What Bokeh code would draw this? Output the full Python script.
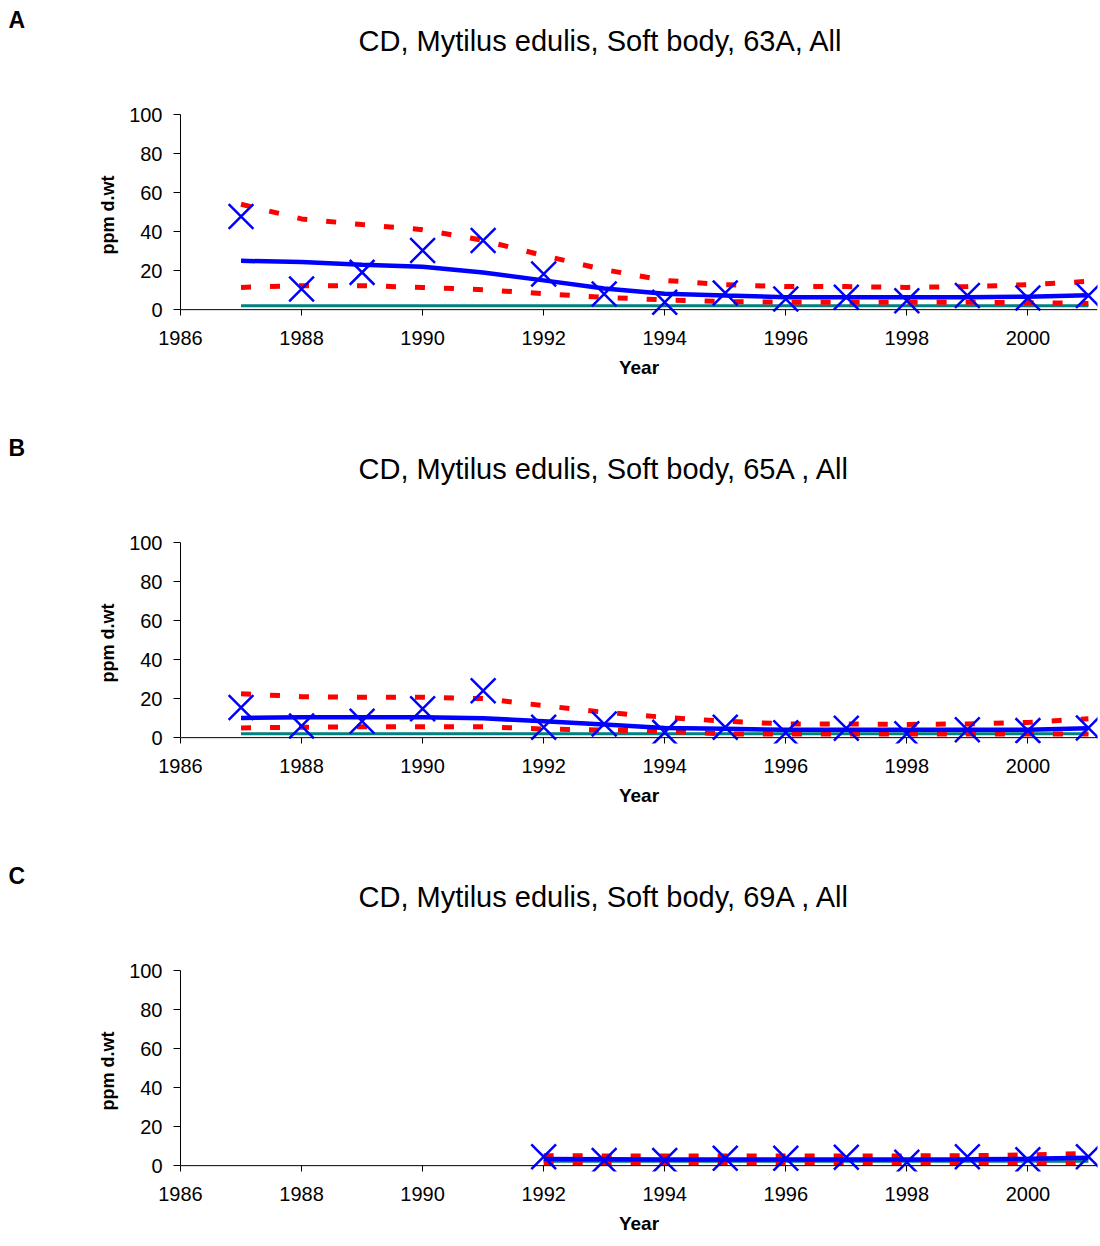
from bokeh.plotting import figure
from bokeh.models import Range1d, FixedTicker, Span, Title
from bokeh.layouts import column
from bokeh.embed import file_html
from bokeh.resources import INLINE

# ---------------- data ----------------
x_ticks = [1986, 1988, 1990, 1992, 1994, 1996, 1998, 2000]
y_ticks = [0, 20, 40, 60, 80, 100]

years_A = [1987, 1988, 1989, 1990, 1991, 1992, 1993, 1994, 1995, 1996, 1997, 1998, 1999, 2000, 2001]
obs_A = [47.7, 10.6, 19.1, 30.3, 35.4, 18.3, 8.0, 3.8, 8.5, 5.5, 6.3, 4.6, 7.2, 6.0, 7.2]
fit_A = [25.0, 24.4, 23.0, 22.0, 19.0, 15.0, 10.8, 8.1, 7.2, 6.4, 6.3, 6.3, 6.4, 6.6, 7.4]
upper_A = [54.0, 46.5, 43.6, 41.0, 35.5, 27.7, 20.5, 15.0, 12.8, 11.8, 11.8, 11.4, 11.8, 12.8, 14.5]
lower_A = [11.4, 12.3, 12.3, 11.4, 10.2, 8.2, 6.3, 5.0, 4.1, 3.8, 3.8, 3.8, 3.8, 3.6, 3.2]
bac_A = [2.0, 2.0, 2.0, 2.0, 2.0, 2.0, 2.0, 2.0, 2.0, 2.0, 2.0, 2.0, 2.0, 2.0, 2.0]

years_B = [1987, 1988, 1989, 1990, 1991, 1992, 1993, 1994, 1995, 1996, 1997, 1998, 1999, 2000, 2001]
obs_B = [15.5, 6.0, 8.4, 14.8, 24.0, 5.3, 7.0, 2.7, 5.3, 2.5, 4.8, 2.0, 4.0, 3.6, 5.0]
fit_B = [10.1, 10.4, 10.4, 10.4, 9.9, 8.4, 6.7, 5.0, 4.6, 4.0, 4.0, 4.0, 4.0, 4.1, 4.8]
upper_B = [22.5, 21.0, 20.7, 20.7, 20.0, 16.4, 13.0, 10.4, 8.4, 7.0, 7.0, 6.8, 7.0, 7.8, 9.7]
lower_B = [5.0, 5.3, 5.6, 5.6, 5.6, 4.4, 3.9, 3.2, 1.9, 1.9, 1.9, 1.9, 1.9, 1.9, 1.9]
bac_B = [2.0, 2.0, 2.0, 2.0, 2.0, 2.0, 2.0, 2.0, 2.0, 2.0, 2.0, 2.0, 2.0, 2.0, 2.0]

years_C = [1992, 1993, 1994, 1995, 1996, 1997, 1998, 1999, 2000, 2001]
obs_C = [4.6, 2.6, 2.6, 3.8, 3.8, 4.3, 1.7, 4.6, 3.0, 4.6]
fit_C = [3.4, 3.3, 3.2, 3.2, 3.2, 3.2, 3.2, 3.3, 3.5, 4.0]
upper_C = [5.1, 5.0, 5.0, 5.0, 5.0, 5.0, 5.0, 5.1, 5.5, 6.2]
lower_C = [1.4, 1.4, 1.4, 1.4, 1.4, 1.4, 1.4, 1.4, 1.4, 1.4]
bac_C = [2.2, 2.2, 2.2, 2.2, 2.2, 2.2, 2.2, 2.2, 2.2, 2.2]

titles = ["CD, Mytilus edulis, Soft body, 63A, All",
          "CD, Mytilus edulis, Soft body, 65A , All",
          "CD, Mytilus edulis, Soft body, 69A , All"]
letters = ["A", "B", "C"]
y_label = "ppm d.wt"
x_label = "Year"

# ---------------- layout constants ----------------
W = 1100
FL, FR, FT, FH = 180, 3, 114, 201
FONT = "Liberation Sans"


def make_panel(letter, title, years, obs, fit, upper, lower, bac, height):
    p = figure(width=W, height=height,
               x_range=Range1d(1986, 2001.15), y_range=Range1d(-3, 100),
               output_backend="svg", toolbar_location=None,
               min_border_left=FL, min_border_right=FR,
               min_border_top=FT, min_border_bottom=height - FT - FH,
               title=letter)
    # panel letter (outermost title)
    p.title.align = "left"
    p.title.offset = -172
    p.title.text_font = FONT
    p.title.text_font_size = "23px"
    p.title.text_font_style = "bold"
    p.title.text_color = "black"
    try:
        p.title.standoff = -20
    except Exception:
        p.title.standoff = 0
    # spacer between title and frame (innermost)
    p.add_layout(Title(text=" ", align="left", standoff=34,
                       text_font=FONT, text_font_size="20px"), "above")
    # chart title
    p.add_layout(Title(text=title, align="left", offset=178, standoff=0,
                       text_font=FONT, text_font_size="29px",
                       text_font_style="normal", text_color="black"), "above")

    p.grid.visible = False
    p.outline_line_color = None
    p.background_fill_color = "white"
    p.border_fill_color = "white"

    p.xaxis.bounds = (1986, 2001)
    p.yaxis.bounds = (0, 100)
    p.xaxis.ticker = FixedTicker(ticks=x_ticks)
    p.yaxis.ticker = FixedTicker(ticks=y_ticks)
    for ax in (p.xaxis, p.yaxis):
        ax.axis_line_color = "black"
        ax.major_tick_line_color = "black"
        ax.minor_tick_line_color = None
        ax.major_label_text_font = FONT
        ax.major_label_text_font_size = "20px"
        ax.major_label_text_color = "black"
        ax.axis_label_text_font = FONT
        ax.axis_label_text_font_style = "bold"
        ax.axis_label_text_color = "black"
    # x axis drawn at y = 0 by a span; ticks rise from frame bottom to it
    p.xaxis.axis_line_color = None
    p.xaxis.major_tick_in = 6
    p.xaxis.major_tick_out = 0
    p.xaxis.major_label_standoff = 15
    p.xaxis.axis_label = x_label
    p.xaxis.axis_label_text_font_size = "19px"
    p.xaxis.axis_label_standoff = 9

    p.yaxis.major_tick_in = 0
    p.yaxis.major_tick_out = 7
    p.yaxis.major_label_standoff = 11
    p.yaxis.axis_label = y_label
    p.yaxis.axis_label_text_font_size = "18px"
    p.yaxis.axis_label_standoff = 8

    p.add_layout(Span(location=0, dimension="width", line_color="black", line_width=1))

    # series
    p.line(years, bac, line_color="#008080", line_width=3)
    p.line(years, lower, line_color="#FF0000", line_width=5, line_dash="10 19")
    p.line(years, upper, line_color="#FF0000", line_width=5, line_dash="10 19")
    p.line(years, fit, line_color="#0000FF", line_width=4.5)
    p.scatter(years, obs, marker="x", size=35, line_color="#0000FF", line_width=2.5)
    return p


pA = make_panel(letters[0], titles[0], years_A, obs_A, fit_A, upper_A, lower_A, bac_A, 428)
pB = make_panel(letters[1], titles[1], years_B, obs_B, fit_B, upper_B, lower_B, bac_B, 428)
pC = make_panel(letters[2], titles[2], years_C, obs_C, fit_C, upper_C, lower_C, bac_C, 388)

layout = column(pA, pB, pC)
open("out.html", "w").write(file_html(layout, INLINE))
